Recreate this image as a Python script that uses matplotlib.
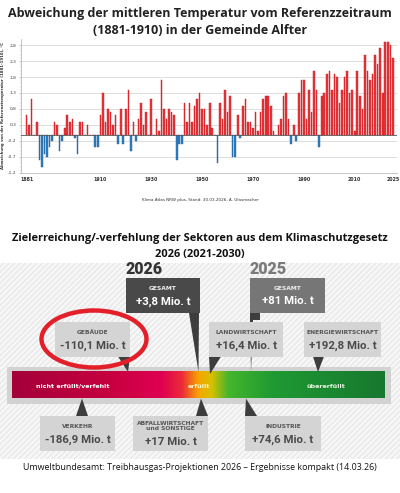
import numpy as np
import matplotlib
matplotlib.use("Agg")
import matplotlib.pyplot as plt
from matplotlib.patches import Rectangle, Ellipse, Polygon
from matplotlib.colors import LinearSegmentedColormap

# Temperaturabweichung Alfter (1881-2025), in °C
anomalies = [
    0.6, 0.3, 1.1, 0.0, 0.4, -0.8, -1.0, -0.6, -0.7, -0.4,   # 1881-1890
    -0.2, 0.4, 0.3, -0.5, -0.2, 0.2, 0.6, 0.4, 0.5, -0.1,    # 1891-1900
    -0.6, 0.4, 0.4, 0.0, 0.3, 0.0, 0.0, -0.4, -0.4, 0.6,     # 1901-1910
    1.3, 0.4, 0.8, 0.7, 0.3, 0.6, -0.3, 0.8, -0.3, 0.8,      # 1911-1920
    1.4, -0.5, 0.4, -0.2, 0.5, 1.0, 0.3, 0.7, 0.0, 1.1,      # 1921-1930
    0.0, 0.5, 0.1, 1.7, 0.8, 0.5, 0.8, 0.7, 0.6, -0.8,       # 1931-1940
    -0.3, -0.3, 1.0, 0.4, 1.0, 0.4, 0.9, 1.1, 1.3, 0.8,      # 1941-1950
    0.8, 0.3, 1.0, 0.2, 0.0, -0.9, 1.0, 0.5, 1.4, 0.7,       # 1951-1960
    1.2, -0.7, -0.7, 0.6, -0.1, 0.9, 1.1, 0.4, 0.4, 0.2,     # 1961-1970
    0.7, 0.1, 0.7, 1.1, 1.2, 1.2, 0.9, 0.1, 0.0, 0.3,        # 1971-1980
    0.5, 1.2, 1.3, 0.5, -0.3, 0.3, -0.2, 1.3, 1.7, 1.7,      # 1981-1990
    0.5, 1.4, 0.7, 2.0, 1.4, -0.4, 1.2, 1.3, 1.9, 2.0,       # 1991-2000
    1.4, 1.9, 1.8, 1.0, 1.4, 1.8, 2.0, 1.3, 1.4, 0.1,        # 2001-2010
    2.0, 1.2, 0.8, 2.5, 2.0, 1.7, 1.9, 2.5, 2.2, 2.7,        # 2011-2020
    1.3, 2.9, 2.9, 2.8, 2.4,                                 # 2021-2025
]
years = np.arange(1881, 1881 + len(anomalies))
xtick_years = [1881, 1910, 1930, 1950, 1970, 1990, 2010, 2025]
ytick_vals = [-1.2, -0.7, -0.2, 0.3, 0.8, 1.3, 1.8, 2.3, 2.8]

# Klimaschutzgesetz-Sektoren
sectors = ["GEBÄUDE", "LANDWIRTSCHAFT", "ENERGIEWIRTSCHAFT", "VERKEHR",
           "ABFALLWIRTSCHAFT\nund SONSTIGE", "INDUSTRIE"]
sector_values = ["-110,1 Mio. t", "+16,4 Mio. t", "+192,8 Mio. t", "-186,9 Mio. t",
                 "+17 Mio. t", "+74,6 Mio. t"]
total_years = ["2026", "2025"]
total_values = ["+3,8 Mio. t", "+81 Mio. t"]
zones = ["nicht erfüllt/verfehlt", "erfüllt", "übererfüllt"]

W, H = 400, 493
fig = plt.figure(figsize=(W / 100, H / 100), dpi=100)
fig.patch.set_facecolor("white")

def fx(px):
    return px / W

def fy(py):
    return 1 - py / H

# ---------- Balkendiagramm ----------
ax = fig.add_axes([fx(21), fy(173), fx(397) - fx(21), fy(38.6) - fy(173)])
anom = np.array(anomalies)
cols = np.where(anom >= 0, "#e8363c", "#2e7ec2")
edges = np.where(anom >= 0, "#c4161c", "#1f5f99")
ax.bar(years, anom, width=0.64, color=cols, edgecolor=edges, linewidth=0.3, zorder=3)
ax.axhline(0, color="#555555", lw=0.6, zorder=4)
ax.set_xlim(1878.8, 2026.6)
ax.set_ylim(-1.2, 3.0)
ax.set_yticks(ytick_vals)
ax.set_yticklabels([f"{v:.1f}".replace(".", ",") for v in ytick_vals], fontsize=3.2, color="#444444")
ax.set_yticks(np.arange(-1.2, 2.85, 0.1), minor=True)
ax.tick_params(axis="y", which="major", length=1.5, width=0.4, color="#999999", pad=2)
ax.tick_params(axis="y", which="minor", length=1.0, width=0.3, color="#999999")
ax.set_xticks(xtick_years)
ax.set_xticklabels([str(y) for y in xtick_years], fontsize=3.4, fontweight="bold", color="#333333")
ax.tick_params(axis="x", length=0, pad=3)
ax.yaxis.grid(True, color="#d8d8d8", lw=0.6, zorder=0)
for s in ["top", "right"]:
    ax.spines[s].set_visible(False)
for s in ["left", "bottom"]:
    ax.spines[s].set_color("#bbbbbb")
    ax.spines[s].set_linewidth(0.6)
ax.set_ylabel("Abweichung von der Referenztemperatur (1881-1910), °C", fontsize=2.8,
              fontweight="bold", color="#333333", labelpad=2)

fig.text(0.5, fy(13), "Abweichung der mittleren Temperatur vom Referenzzeitraum",
         ha="center", va="center", fontsize=9.0, fontweight="bold", family="Open Sans", color="#222222")
fig.text(0.5, fy(30), "(1881-1910) in der Gemeinde Alfter",
         ha="center", va="center", fontsize=9.0, fontweight="bold", family="Open Sans", color="#222222")
fig.text(0.5, fy(200), "Klima Atlas NRW plus, Stand: 30.03.2026, A. Glasmacher",
         ha="center", va="center", fontsize=3, color="#333333")

# ---------- Infografik ----------
ax2 = fig.add_axes([0, 0, 1, 1])
ax2.set_xlim(0, W)
ax2.set_ylim(H, 0)
ax2.axis("off")

fig.text(0.5, fy(238), "Zielerreichung/-verfehlung der Sektoren aus dem Klimaschutzgesetz",
         ha="center", va="center", fontsize=7.95, fontweight="bold", family="Open Sans", color="#111111")
fig.text(0.5, fy(255), "2026 (2021-2030)",
         ha="center", va="center", fontsize=7.95, fontweight="bold", family="Open Sans", color="#111111")

ax2.add_patch(Rectangle((0, 263), W, 196, facecolor="#f7f7f7", edgecolor="#e8e8e8",
                        hatch="//////", linewidth=0, zorder=1))

# Farbverlauf
ax2.add_patch(Rectangle((7, 366.5), 384, 37.5, facecolor="#d2d2d2", edgecolor="none", zorder=2))
grad = LinearSegmentedColormap.from_list("ziel", [
    (0.00, "#a4003a"), (0.25, "#c4003f"), (0.40, "#df0051"), (0.455, "#ec2a3a"),
    (0.50, "#f7a400"), (0.535, "#d8c000"), (0.58, "#45b52c"), (0.70, "#1f9a33"),
    (1.00, "#17772f")])
ax2.imshow(np.linspace(0, 1, 256)[None, :], cmap=grad, aspect="auto",
           extent=(12, 385, 398.5, 372), zorder=3)
ax2.set_xlim(0, W)
ax2.set_ylim(H, 0)
zone_x = [73, 199, 326]
zone_col = ["#ffffff", "#fff6c0", "#e6f5e0"]
for t, x, c in zip(zones, zone_x, zone_col):
    ax2.text(x, 386, t, ha="center", va="center", fontsize=4.6, color=c, fontweight="bold", zorder=5)

dark = "#3d3d3d"
# Zeiger
pointers = [
    [(189, 313), (199, 313), (198.5, 372)],
    [(250, 320), (253, 320), (251, 372)],
    [(118, 356.5), (130, 356.5), (128, 372)],
    [(209, 356.5), (221, 356.5), (210, 374)],
    [(313, 356.5), (324, 356.5), (318, 372)],
    [(76, 416), (88, 416), (82, 398.5)],
    [(196, 416), (208, 416), (201, 398.5)],
    [(245, 416), (257, 416), (246, 398.5)],
]
for p in pointers:
    ax2.add_patch(Polygon(p, closed=True, facecolor=dark, edgecolor="none", zorder=4))
ax2.add_patch(Rectangle((250, 313), 10, 7, facecolor=dark, edgecolor="none", zorder=4))

# Sektor-Boxen (x0, y0, x1, y1)
boxes = [(55, 322, 130, 356.5), (209, 322, 283, 356.5), (304, 322, 381, 356.5),
         (40, 416, 115, 451), (133, 416, 208, 451), (245, 416, 321, 451)]
for (x0, y0, x1, y1), name, val in zip(boxes, sectors, sector_values):
    ax2.add_patch(Rectangle((x0, y0), x1 - x0, y1 - y0, facecolor="#d4d4d4", edgecolor="none", zorder=5))
    cx = (x0 + x1) / 2
    if "\n" in name:
        ax2.text(cx, y0 + 10, name, ha="center", va="center", fontsize=4.3, fontweight="bold",
                 color="#555555", linespacing=1.1, zorder=6)
        ax2.text(cx, y0 + 26, val, ha="center", va="center", fontsize=8.2, fontweight="bold",
                 family="Roboto", color="#4a4a4a", zorder=6)
    else:
        ax2.text(cx, y0 + 11, name, ha="center", va="center", fontsize=4.3, fontweight="bold",
                 color="#555555", zorder=6)
        ax2.text(cx, y0 + 23.5, val, ha="center", va="center", fontsize=8.2, fontweight="bold",
                 family="Roboto", color="#4a4a4a", zorder=6)

# Gesamt-Boxen
gbox = [(126, 278, 200, 313), (250, 278, 325, 313)]
gcol = ["#494949", "#767676"]
ycol = ["#333333", "#7a7a7a"]
for (x0, y0, x1, y1), yr, val, c, yc in zip(gbox, total_years, total_values, gcol, ycol):
    ax2.add_patch(Rectangle((x0, y0), x1 - x0, y1 - y0, facecolor=c, edgecolor="none", zorder=5))
    cx = (x0 + x1) / 2
    ax2.text(cx, y0 + 11, "GESAMT", ha="center", va="center", fontsize=4.3, fontweight="bold",
             color="#f0f0f0", zorder=6)
    ax2.text(cx, y0 + 23.5, val, ha="center", va="center", fontsize=8.2, fontweight="bold",
             family="Roboto", color="white", zorder=6)
    ax2.text(x0 - 1, y0 - 0.5, yr, ha="left", va="bottom", fontsize=11.5, fontweight="heavy",
             family="Roboto", color=yc, zorder=6)

ax2.add_patch(Ellipse((94, 339), 105, 57, facecolor="none", edgecolor="#e3202a", lw=3.2, zorder=7))

fig.text(0.5, fy(467), "Umweltbundesamt: Treibhausgas-Projektionen 2026 – Ergebnisse kompakt (14.03.26)",
         ha="center", va="center", fontsize=6.4, family="Open Sans", color="#111111")

fig.savefig("out.png", dpi=100, facecolor="white")
